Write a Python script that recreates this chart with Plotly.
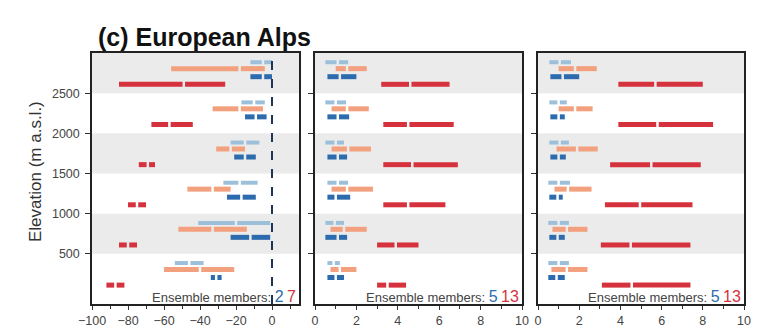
import plotly.graph_objects as go

# ---------------- data ----------------
BAND_BASES = [0, 500, 1000, 1500, 2000, 2500]   # elevation bands (m a.s.l.)
Y_TICKS = [500, 1000, 1500, 2000, 2500]

# (min, median, max) per elevation band, bottom band first
P1_LIGHTBLUE = [(-54, -46, -38), (-41, -20, -1), (-27, -18, -8), (-23, -15, -7), (-17, -10, -4), (-12, -5, 0)]
P1_ORANGE = [(-60, -40, -21), (-52, -33, -14), (-47, -33, -23), (-31, -23, -15), (-33, -18, -5), (-56, -18, -4)]
P1_BLUE = [(-34, -31, -28), (-23, -12, -1), (-25, -17, -9), (-21, -15, -9), (-15, -9, -3), (-12, -5, 0)]
P1_RED = [(-92, -87, -82), (-85, -80, -75), (-80, -75, -70), (-74, -69, -65), (-67, -57, -44), (-85, -49, -26)]

P2_LIGHTBLUE = [(0.6, 0.9, 1.2), (0.5, 0.95, 1.4), (0.6, 1.1, 1.6), (0.5, 1.0, 1.4), (0.5, 1.0, 1.5), (0.5, 1.1, 1.6)]
P2_ORANGE = [(0.75, 1.2, 2.0), (0.75, 1.4, 2.5), (0.8, 1.55, 2.8), (0.8, 1.6, 2.7), (0.8, 1.55, 2.6), (1.0, 1.55, 2.5)]
P2_BLUE = [(0.6, 1.0, 1.4), (0.5, 1.1, 1.55), (0.6, 1.0, 1.7), (0.6, 1.1, 1.55), (0.6, 1.1, 1.65), (0.6, 1.2, 2.0)]
P2_RED = [(3.0, 3.5, 4.4), (3.0, 3.9, 5.0), (3.3, 4.5, 6.3), (3.3, 4.7, 6.9), (3.3, 4.5, 6.7), (3.2, 4.6, 6.5)]

P3_LIGHTBLUE = [(0.5, 1.0, 1.5), (0.5, 1.0, 1.5), (0.5, 1.0, 1.55), (0.55, 1.05, 1.5), (0.55, 1.0, 1.4), (0.55, 1.05, 1.6)]
P3_ORANGE = [(0.65, 1.4, 2.4), (0.7, 1.4, 2.4), (0.8, 1.45, 2.6), (0.9, 1.9, 2.9), (1.0, 1.8, 2.65), (1.0, 1.8, 2.85)]
P3_BLUE = [(0.5, 0.9, 1.3), (0.55, 0.95, 1.3), (0.55, 0.95, 1.2), (0.6, 1.0, 1.35), (0.6, 1.0, 1.3), (0.6, 1.2, 2.0)]
P3_RED = [(3.1, 4.55, 7.4), (3.05, 4.5, 7.4), (3.25, 4.95, 7.5), (3.5, 5.5, 7.9), (3.9, 5.8, 8.5), (3.9, 5.7, 8.0)]

ENSEMBLE_BLUE = [2, 5, 5]
ENSEMBLE_RED = [7, 13, 13]
TITLE = "(c) European Alps"
Y_TITLE = "Elevation (m a.s.l.)"

# ---------------- styling / layout ----------------
FONT = "Liberation Sans Narrow, Liberation Sans, Arial Narrow, Arial, sans-serif"
C_LB = "#9cc0da"
C_OR = "#f2a07e"
C_BL = "#2c6bad"
C_RD = "#d5323e"
ROW_OFFSET = {"red": 110, "blue": 205, "orange": 305, "lb": 385}

# page body has an 8px margin: work in page pixels and shift
OFF = 8
W, H = 759 - OFF, 332 - OFF


def px(xp):
    return (xp - OFF) / W


def py(yp):
    return 1 - (yp - OFF) / H


panels = [
    dict(xr=[-100, 15], dom=[px(92), px(299)], ticks=[-100, -80, -60, -40, -20, 0], minor=10,
         series=[("lb", P1_LIGHTBLUE, C_LB, 4), ("orange", P1_ORANGE, C_OR, 5),
                 ("blue", P1_BLUE, C_BL, 5), ("red", P1_RED, C_RD, 5)]),
    dict(xr=[0, 10], dom=[px(315), px(522)], ticks=[0, 2, 4, 6, 8, 10], minor=1,
         series=[("lb", P2_LIGHTBLUE, C_LB, 4), ("orange", P2_ORANGE, C_OR, 5),
                 ("blue", P2_BLUE, C_BL, 5), ("red", P2_RED, C_RD, 5)]),
    dict(xr=[0, 10], dom=[px(538), px(744)], ticks=[0, 2, 4, 6, 8, 10], minor=1,
         series=[("lb", P3_LIGHTBLUE, C_LB, 4), ("orange", P3_ORANGE, C_OR, 5),
                 ("blue", P3_BLUE, C_BL, 5), ("red", P3_RED, C_RD, 5)]),
]

Y_RANGE = [-125, 3000]
Y_DOM = [py(304), py(53)]

fig = go.Figure()
shapes = []
annotations = []

for i, p in enumerate(panels):
    ax = "" if i == 0 else str(i + 1)
    xref, yref = "x" + ax, "y" + ax
    span = p["xr"][1] - p["xr"][0]
    gap = span * 0.006
    for b in BAND_BASES:
        if (b // 500) % 2 == 1:
            shapes.append(dict(type="rect", xref=xref + " domain", yref=yref, x0=0, x1=1,
                               y0=b, y1=b + 500, fillcolor="#ebebeb", line_width=0, layer="below"))
    for key, vals, col, w in p["series"]:
        xs, ys = [], []
        for b, (mn, md, mx) in zip(BAND_BASES, vals):
            y = b + ROW_OFFSET[key]
            xs += [mn, md - gap, None, md + gap, mx, None]
            ys += [y, y, None, y, y, None]
        fig.add_trace(go.Scatter(x=xs, y=ys, mode="lines", line=dict(color=col, width=w),
                                 xaxis=xref, yaxis=yref, showlegend=False, hoverinfo="skip"))
    if i == 0:
        shapes.append(dict(type="line", xref=xref, yref=yref + " domain", x0=0, x1=0, y0=0, y1=1,
                           line=dict(color="#1d3557", width=2, dash="dash")))
    annotations.append(dict(
        xref=xref + " domain", yref=yref + " domain", x=0.995, y=0.0, xanchor="right", yanchor="bottom",
        showarrow=False, yshift=-3,
        text=("<span style='font-size:13px;color:#444'>Ensemble members: </span>"
              f"<span style='font-size:16px;color:{C_BL}'>{ENSEMBLE_BLUE[i]}</span> "
              f"<span style='font-size:16px;color:{C_RD}'>{ENSEMBLE_RED[i]}</span>"),
        font=dict(family=FONT)))
    xa = dict(domain=p["dom"], range=p["xr"], tickvals=p["ticks"], ticks="outside", ticklen=4,
              tickcolor="#333", tickfont=dict(family=FONT, size=12.5, color="#444"),
              showgrid=False, zeroline=False, showline=True, linecolor="#222", linewidth=1.5,
              mirror=True, anchor=yref, automargin=False,
              minor=dict(dtick=p["minor"], ticks="outside", ticklen=3, tickcolor="#333", showgrid=False))
    ya = dict(domain=Y_DOM, range=Y_RANGE, tickvals=Y_TICKS, ticks="outside", ticklen=5,
              tickcolor="#333", tickfont=dict(family=FONT, size=12.5, color="#444"),
              ticklabelstandoff=3,
              showticklabels=(i == 0), showgrid=False, zeroline=False, showline=True,
              linecolor="#222", linewidth=1.5, mirror=True, anchor=xref, automargin=False)
    fig.update_layout(**{"xaxis" + ax: xa, "yaxis" + ax: ya})

annotations.append(dict(xref="paper", yref="paper", x=px(35), y=py(172), xanchor="center",
                        yanchor="middle", showarrow=False, text=Y_TITLE, textangle=-90,
                        font=dict(family=FONT, size=17, color="#333")))
annotations.append(dict(xref="paper", yref="paper", x=px(96), y=py(37), xanchor="left",
                        yanchor="middle", showarrow=False, text="<b>" + TITLE + "</b>",
                        font=dict(family=FONT, size=25, color="#111")))

fig.update_layout(width=W, height=H, margin=dict(l=0, r=0, t=0, b=0),
                  paper_bgcolor="white", plot_bgcolor="white",
                  shapes=shapes, annotations=annotations, font=dict(family=FONT))
fig.write_html("out.html")
